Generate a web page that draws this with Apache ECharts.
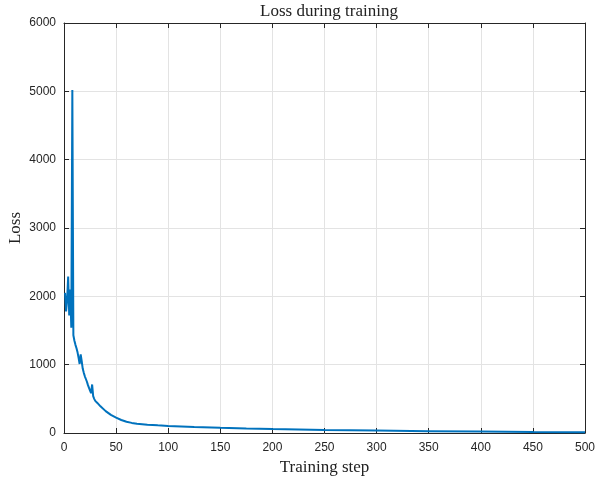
<!DOCTYPE html>
<html>
<head>
<meta charset="utf-8">
<script src="https://cdn.jsdelivr.net/npm/echarts@6/dist/echarts.min.js"></script>
<style>
	html, body { margin: 0; padding: 0; background: #fff; }
	#lossChart { width: 597px; height: 480px; }
</style>
</head>
<body>
<div id="lossChart"></div>
<script>
// training steps and the loss
var steps = [1, 2, 3, 4, 5, 6, 7, 8, 9, 10, 11, 12, 13, 14, 15, 16, 17, 18, 19, 20,
	21, 22, 23, 24, 25, 26, 27, 28, 29, 30, 32, 35, 40, 45, 50, 55, 60, 65, 70, 80,
	90, 100, 125, 150, 175, 200, 250, 300, 350, 400, 450, 500];
var lossValues = [2050, 1780, 1950, 2290, 1720, 2100, 1540, 5020, 1430, 1350, 1290, 1240, 1180, 1100, 1010, 1150, 1050, 940, 880, 830,
	790, 750, 700, 660, 620, 585, 710, 540, 500, 470, 440, 390, 320, 265, 225, 190, 165, 148, 137, 122,
	112, 104, 88, 76, 66, 58, 45, 35, 27, 21, 16, 12];
var xTicks = [0, 50, 100, 150, 200, 250, 300, 350, 400, 450, 500];
var yTicks = [0, 1000, 2000, 3000, 4000, 5000, 6000];

initChart();

function initChart() {
	var chart = echarts.init(document.getElementById('lossChart'));
	var points = [];
	for (var i = 0; i < steps.length; i++) {
		points.push([steps[i], lossValues[i]]);
	}

	var axisColor = '#262626';
	var labelFont = {
		color: axisColor, fontSize: 12, fontFamily: 'Liberation Sans, Arial, sans-serif',
		formatter: function (v) { return String(v); }
	};
	var nameFont = { fontFamily: 'Liberation Serif, serif', fontSize: 17, color: '#222' };

	function boxAxis(pos, max, step) {
		return {
			type: 'value', position: pos, min: 0, max: max, interval: step,
			axisLine: { show: true, onZero: false, lineStyle: { color: axisColor } },
			axisTick: { show: true, inside: true, length: 5, lineStyle: { color: axisColor } },
			axisLabel: { show: false }, splitLine: { show: false }
		};
	}

	var option = {
		animation: false,
		backgroundColor: '#fff',
		title: {
			text: 'Loss during training', left: 324, top: -2, textAlign: 'center',
			textStyle: { fontFamily: 'Liberation Serif, serif', fontSize: 17, fontWeight: 'normal', color: '#222' }
		},
		grid: { left: 64, right: 12, top: 23, bottom: 47, containLabel: false, outerBoundsMode: 'none' },
		xAxis: [
			{
				type: 'value', min: xTicks[0], max: xTicks[xTicks.length - 1], interval: 50,
				axisLine: { show: true, onZero: false, lineStyle: { color: axisColor } },
				axisTick: { show: true, inside: true, length: 5, lineStyle: { color: axisColor } },
				axisLabel: Object.assign({ margin: 9 }, labelFont),
				splitLine: { show: true, lineStyle: { color: '#e3e3e3' } },
				name: 'Training step', nameLocation: 'middle', nameGap: 26, nameMoveOverlap: false,
				nameTextStyle: nameFont
			},
			boxAxis('top', 500, 50)
		],
		yAxis: [
			{
				type: 'value', min: yTicks[0], max: yTicks[yTicks.length - 1], interval: 1000,
				axisLine: { show: true, onZero: false, lineStyle: { color: axisColor } },
				axisTick: { show: true, inside: true, length: 5, lineStyle: { color: axisColor } },
				axisLabel: Object.assign({ margin: 8 }, labelFont),
				splitLine: { show: true, lineStyle: { color: '#e3e3e3' } },
				name: 'Loss', nameLocation: 'middle', nameGap: 40, nameMoveOverlap: false,
				nameTextStyle: nameFont
			},
			boxAxis('right', 6000, 1000)
		],
		series: [{
			type: 'line',
			data: points,
			showSymbol: false,
			lineStyle: { color: '#0072BD', width: 2 },
			itemStyle: { color: '#0072BD' }
		}]
	};
	chart.setOption(option);
}
</script>
</body>
</html>
